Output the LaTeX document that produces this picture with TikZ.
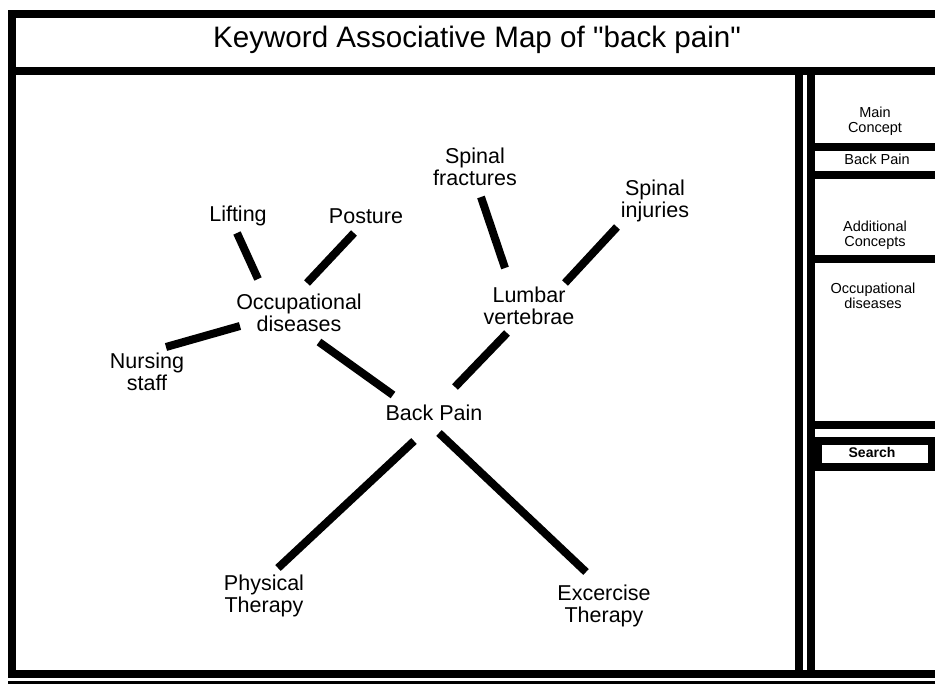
\documentclass[tikz,border=0pt]{standalone}
\usepackage{fontspec}
\setmainfont{Liberation Sans}
\newfontfamily\titlefont{Liberation Sans}[Ligatures=TeXOff]
\begin{document}
\begin{tikzpicture}[x=1pt,y=-1pt,
  frame/.style={line width=8pt,line cap=rect},
  link/.style={line width=8pt},
  term/.style={inner sep=0pt,align=center,font=\fontsize{21.5}{22.5}\selectfont},
  side/.style={inner sep=0pt,align=center,font=\fontsize{14.5}{15}\selectfont}]
\useasboundingbox (0,0) rectangle (935,684);

% window frame
\draw[frame] (12,14) -- (935,14);
\draw[frame] (12,14) -- (12,674);
\draw[frame] (12,71) -- (935,71);
\draw[frame] (12,674) -- (935,674);
\draw[line width=3pt] (8,682.5) -- (935,682.5);
% map area and side panel separators
\draw[frame] (799,71) -- (799,674);
\draw[frame] (811,71) -- (811,674);
\draw[frame] (811,147.5) -- (935,147.5);
\draw[frame] (811,175) -- (935,175);
\draw[frame] (811,259) -- (935,259);
\draw[frame] (811,425) -- (935,425);

% title
\node[inner sep=0pt,font=\titlefont\fontsize{29.6}{32}\selectfont] (title) at (477,40)
  {Keyword Associative Map of "back pain"};

% keyword terms
\node[term] (back) at (434,413) {Back Pain};
\node[term] (occ)  at (299,313) {Occupational\\diseases};
\node[term] (lift) at (238,216) {Lifting};
\node[term] (post) at (366,216) {Posture};
\node[term] (nurs) at (147,372) {Nursing\\staff};
\node[term] (lumb) at (529,306) {Lumbar\\vertebrae};
\node[term] (sfrac) at (475,167) {Spinal\\fractures};
\node[term] (sinj) at (655,201) {Spinal\\injuries};
\node[term] (phys) at (264,596) {Physical\\Therapy};
\node[term] (exer) at (604,606) {Excercise\\Therapy};

% connector end points
\coordinate (occ-lift) at (258,279);  \coordinate (lift-occ) at (237,233);
\coordinate (occ-post) at (307,283);  \coordinate (post-occ) at (354,233);
\coordinate (occ-nurs) at (240,326);  \coordinate (nurs-occ) at (166,347);
\coordinate (occ-back) at (319,342);  \coordinate (back-occ) at (393,395);
\coordinate (lumb-sfrac) at (505,268); \coordinate (sfrac-lumb) at (481,197);
\coordinate (lumb-sinj) at (565,283);  \coordinate (sinj-lumb) at (617,227);
\coordinate (lumb-back) at (507,333);  \coordinate (back-lumb) at (455,387);
\coordinate (back-phys) at (414,441);  \coordinate (phys-back) at (278,568);
\coordinate (back-exer) at (439,433);  \coordinate (exer-back) at (586,572);

% connectors
\draw[link] (occ-lift) -- (lift-occ);
\draw[link] (occ-post) -- (post-occ);
\draw[link] (occ-nurs) -- (nurs-occ);
\draw[link] (occ-back) -- (back-occ);
\draw[link] (lumb-sfrac) -- (sfrac-lumb);
\draw[link] (lumb-sinj) -- (sinj-lumb);
\draw[link] (lumb-back) -- (back-lumb);
\draw[link] (back-phys) -- (phys-back);
\draw[link] (back-exer) -- (exer-back);

% side panel
\node[side] (mainlbl) at (875,121) {Main\\Concept};
\node[side] (mainval) at (877,159.5) {Back Pain};
\node[side] (addlbl)  at (875,235) {Additional\\Concepts};
\node[side] (addval)  at (873,296) {Occupational\\diseases};
\draw[line width=7.5pt] (818.5,441) rectangle (931.5,467);
\node[side,font=\fontsize{14}{15}\selectfont\bfseries] (search) at (872,452.5) {Search};
\end{tikzpicture}
\end{document}
